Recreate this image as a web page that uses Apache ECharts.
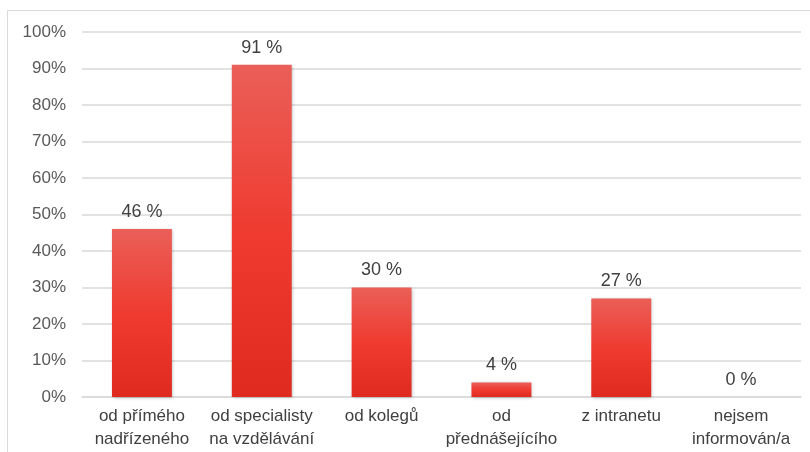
<!DOCTYPE html>
<html><head><meta charset="utf-8">
<script src="https://cdn.jsdelivr.net/npm/echarts@6/dist/echarts.min.js"></script>
<style>html,body{margin:0;padding:0;background:#fff}#c{width:810px;height:452px}</style>
</head><body><div id="c"></div>
<script>
const categories = ['od přímého\nnadřízeného', 'od specialisty\nna vzdělávání', 'od kolegů', 'od\npřednášejícího', 'z intranetu', 'nejsem\ninformován/a'];
const values = [46, 91, 30, 4, 27, 0];
const yTicks = [0, 10, 20, 30, 40, 50, 60, 70, 80, 90, 100];

const chart = echarts.init(document.getElementById('c'), null, {renderer: 'canvas'});
const font = 'Liberation Sans, Arial, sans-serif';
chart.setOption({
  animation: false,
  graphic: [{type: 'rect', shape: {x: 7.5, y: 10.5, width: 830, height: 460}, style: {fill: 'none', stroke: '#d9d9d9', lineWidth: 1}, silent: true}],
  grid: {left: 82, right: 9, top: 32, bottom: 55, containLabel: false},
  xAxis: {
    type: 'category', data: categories,
    axisLine: {show: true, lineStyle: {color: '#d9d9d9', width: 1.5}},
    axisTick: {show: false},
    axisLabel: {color: '#404040', fontSize: 17, fontFamily: font, lineHeight: 23, margin: 8, interval: 0}
  },
  yAxis: {
    type: 'value', min: yTicks[0], max: yTicks[yTicks.length - 1], interval: 10,
    axisLine: {show: false}, axisTick: {show: false},
    splitLine: {lineStyle: {color: '#d9d9d9', width: 1.5}},
    axisLabel: {color: '#595959', fontSize: 17, fontFamily: font, margin: 16, formatter: v => v + '%'}
  },
  series: [{
    type: 'bar', data: values, barWidth: '50%',
    itemStyle: {
      color: new echarts.graphic.LinearGradient(0, 0, 0, 1, [
        {offset: 0, color: '#ea5f58'}, {offset: 0.5, color: '#ef3b30'}, {offset: 1, color: '#de2a1f'}
      ]),
      shadowColor: 'rgba(0,0,0,0.25)', shadowBlur: 3, shadowOffsetX: 1, shadowOffsetY: 1
    },
    label: {show: true, position: 'top', distance: 8, color: '#404040', fontSize: 18, fontFamily: font, formatter: p => p.value + ' %'}
  }]
});
</script></body></html>
